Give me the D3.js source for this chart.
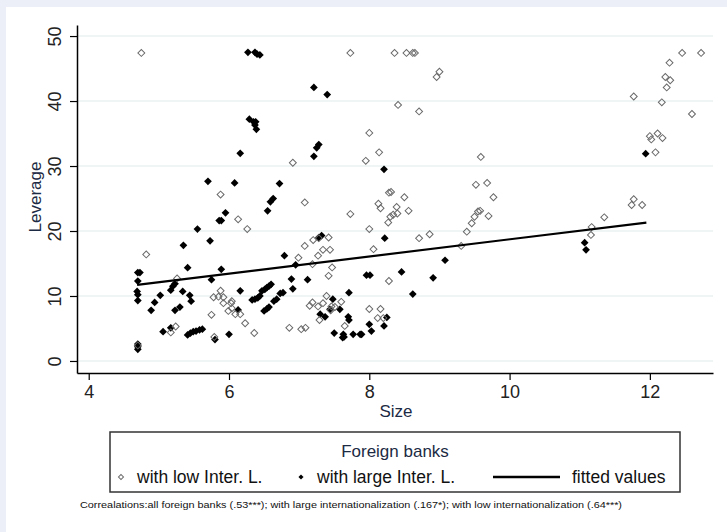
<!DOCTYPE html>
<html>
<head>
<meta charset="utf-8">
<script src="https://cdn.jsdelivr.net/npm/d3@7"></script>
<style>
  body { margin: 0; background: #fff; }
  svg { display: block; font-family: "Liberation Sans", Arial, sans-serif; }
</style>
</head>
<body>
<svg id="chart" width="727" height="532"></svg>
<script>
// banks with low internationalization (open diamonds): [size, leverage]
var lowInter = [
    [4.75,47.4],[7.73,47.4],[8.36,47.4],[8.53,47.4],[8.62,47.4],[8.65,47.4],[12.46,47.4],[12.73,47.4],
    [8.96,43.7],[9.0,44.5],[8.41,39.4],[8.71,38.4],[8.0,35.1],[8.14,32.1],[7.95,30.8],[9.59,31.4],
    [9.52,27.1],[9.68,27.4],[8.28,25.9],[8.5,25.2],[9.77,25.2],
    [11.77,40.7],[12.28,45.9],[12.22,43.7],[12.29,43.2],[12.24,42.1],[12.17,39.8],[12.6,38.0],
    [12.0,34.6],[12.02,34.1],[12.11,35.0],[12.18,34.3],[12.08,32.1],[11.77,24.9],[11.74,24.0],
    [11.89,24.0],[11.35,22.1],[11.17,20.6],[11.16,19.4],
    [6.91,30.5],[5.88,25.6],[7.08,24.4],[7.73,22.6],[6.13,21.8],[6.26,20.3],
    [8.13,24.2],[8.16,23.5],[8.39,23.7],[8.34,22.5],[8.30,22.2],[8.27,21.3],[8.40,22.7],[8.56,23.1],
    [8.0,20.3],[8.06,17.2],[8.71,18.9],[8.86,19.5],[8.28,12.3],[8.31,26.0],
    [9.31,17.7],[9.39,19.9],[9.46,21.2],[9.50,22.2],[9.55,23.0],[9.58,23.1],[9.70,22.3],
    [8.0,8.0],[8.16,8.0],[8.12,6.6],[8.20,6.6],
    [7.08,17.7],[7.20,18.6],[7.28,18.9],[7.42,19.0],[7.34,17.1],[7.44,17.1],[7.27,16.2],[6.99,15.9],
    [7.19,14.9],[7.47,14.4],[7.42,13.1],[7.19,9.0],[7.15,8.5],[7.27,8.4],[7.34,8.9],[7.39,10.0],
    [7.46,8.4],[7.45,7.8],[7.51,8.3],[7.60,9.1],[7.29,6.3],[7.65,5.4],[6.86,5.1],[7.03,4.9],[7.09,5.1],
    [4.82,16.4],[5.26,12.7],[5.88,10.8],[5.78,9.8],[5.85,9.9],[5.92,9.8],[6.04,9.2],[6.03,8.9],
    [5.92,8.9],[5.99,7.7],[6.04,8.1],[6.09,7.2],[6.16,7.2],[5.75,7.1],[6.23,5.8],[6.36,4.3],
    [5.17,4.4],[5.24,5.3],[5.79,3.7],[4.70,2.4]
]

// banks with large internationalization (filled diamonds)
var largeInter = [
    [4.70,13.6],[4.73,13.6],[4.70,12.3],[4.69,10.7],[4.70,10.2],[4.70,9.3],[4.70,2.6],[4.70,2.2],[4.70,1.8],
    [4.89,7.8],[4.94,9.0],[5.02,10.1],[5.06,4.5],[5.17,10.9],[5.20,11.5],[5.23,11.9],[5.17,5.1],
    [5.23,7.8],[5.30,8.3],[5.35,17.8],[5.34,10.7],[5.41,14.35],[5.44,10.1],[5.46,9.2],
    [5.41,4.0],[5.45,4.3],[5.49,4.5],[5.53,4.6],[5.58,4.8],[5.62,4.9],
    [5.55,20.3],[5.73,18.5],[5.75,12.5],[5.80,3.3],[5.86,21.6],[5.89,21.6],[5.95,22.8],[5.89,14.1],
    [6.00,4.1],[6.13,7.85],[6.16,10.8],
    [6.33,9.4],[6.37,9.5],[6.41,9.7],[6.44,10.0],[6.47,10.8],[6.51,11.0],[6.54,11.3],[6.57,11.5],[6.60,11.8],
    [6.50,7.7],[6.54,8.0],[6.57,8.3],[6.55,23.1],[6.59,24.5],[6.63,25.0],
    [6.64,9.2],[6.68,9.5],[6.73,10.4],[6.77,10.5],[6.79,16.2],[6.89,12.6],[6.91,11.1],[6.95,14.8],
    [7.12,12.5],[7.32,19.3],[7.28,19.0],[7.30,7.2],[7.37,6.8],[7.44,7.95],[7.48,9.5],[7.50,4.3],
    [7.63,4.1],[7.62,3.6],[7.64,3.7],[7.70,6.8],[7.71,6.3],[7.71,10.5],[7.58,7.95],[7.77,4.1],
    [7.87,4.1],[7.89,4.1],
    [7.96,13.2],[8.01,13.2],[8.46,13.7],[8.62,10.3],[8.91,12.8],[9.08,15.5],[8.22,18.9],
    [8.0,5.65],[8.03,4.6],[8.21,5.4],[8.25,6.7],
    [6.72,27.3],[7.21,31.5],[7.25,32.8],[7.28,33.3],[8.21,29.5],[7.21,42.1],[7.40,41.0],
    [6.27,47.5],[6.37,47.5],[6.40,47.2],[6.44,47.1],[6.29,37.2],[6.35,36.8],[6.38,36.8],[6.37,36.3],
    [6.39,35.65],[6.16,31.95],[5.70,27.65],[6.08,27.4],
    [11.94,31.9],[11.07,18.2],[11.09,17.1]
]

// fitted values, ends of the line
var fitX = [4.69, 11.95]
var fitY = [11.7, 21.3]

var xTicks = [4, 6, 8, 10, 12]
var yTicks = [0, 10, 20, 30, 40, 50]
var legendLabels = ['with low Inter. L.', 'with large Inter. L.', 'fitted values']
var note = 'Correalations:all foreign banks (.53***); with large internationalization (.167*); with low internationalization (.64***)'

var svg = d3.select('#chart'),
    navy = '#1c2a44'

// page frame: lavender strip on top and left
svg.append('rect').attr('x', 0).attr('y', 0).attr('width', 727).attr('height', 532).attr('fill', '#eceef8')
svg.append('rect').attr('x', 6).attr('y', 7).attr('width', 721).attr('height', 525).attr('fill', '#fff')

var x = d3.scaleLinear().domain([3.833, 12.9]).range([77, 713]),
    y = d3.scaleLinear().domain([-1.85, 51.7]).range([373, 25])

// grid
svg.append('g')
    .selectAll('line')
    .data(yTicks)
    .join('line')
    .attr('x1', 77).attr('x2', 713)
    .attr('y1', d => y(d)).attr('y2', d => y(d))
    .attr('stroke', '#eaf2f2')
    .attr('stroke-width', 1.5)

// axes
var xAxis = svg.append('g')
    .attr('transform', 'translate(0,373)')
    .call(d3.axisBottom(x).tickValues(xTicks).tickSizeInner(7).tickSizeOuter(0).tickPadding(5))
xAxis.selectAll('text').attr('font-size', 18).attr('fill', '#222').attr('font-family', 'Liberation Sans, Arial')

var yAxis = svg.append('g')
    .attr('transform', 'translate(77,0)')
    .call(d3.axisLeft(y).tickValues(yTicks).tickSizeInner(7).tickSizeOuter(0))
yAxis.selectAll('text')
    .attr('font-size', 18).attr('fill', '#222').attr('font-family', 'Liberation Sans, Arial')
    .attr('text-anchor', 'middle')
    .attr('dy', 0)
    .attr('x', 0)
    .attr('transform', 'translate(-16,0) rotate(-90)')

svg.selectAll('.domain').attr('stroke', '#000').attr('stroke-width', 1.5)
svg.selectAll('.tick line').attr('stroke', '#000').attr('stroke-width', 1.2)

svg.append('text')
    .attr('x', 396).attr('y', 417)
    .attr('text-anchor', 'middle')
    .attr('font-size', 17).attr('fill', navy)
    .text('Size')

svg.append('text')
    .attr('transform', 'translate(41,197) rotate(-90)')
    .attr('text-anchor', 'middle')
    .attr('font-size', 17).attr('fill', navy)
    .text('Leverage')

// markers: diamonds are rotated squares
var bigDiamond = d3.symbol().type(d3.symbolSquare).size(30)(),
    openDiamond = d3.symbol().type(d3.symbolSquare).size(24)(),
    smallDiamond = d3.symbol().type(d3.symbolSquare).size(13)()

svg.append('g')
    .selectAll('path')
    .data(largeInter)
    .join('path')
    .attr('d', bigDiamond)
    .attr('transform', d => 'translate(' + x(d[0]) + ',' + y(d[1]) + ') rotate(45)')
    .attr('fill', '#000')

svg.append('g')
    .selectAll('path')
    .data(lowInter)
    .join('path')
    .attr('d', openDiamond)
    .attr('transform', d => 'translate(' + x(d[0]) + ',' + y(d[1]) + ') rotate(45)')
    .attr('fill', 'none')
    .attr('stroke', '#6a6a6a')
    .attr('stroke-width', 1)

var line = d3.line().x(d => x(d[0])).y(d => y(d[1]))
svg.append('path')
    .datum(d3.zip(fitX, fitY))
    .attr('d', line)
    .attr('fill', 'none')
    .attr('stroke', '#000')
    .attr('stroke-width', 2.2)

// legend
var lg = svg.append('g')
lg.append('rect')
    .attr('x', 110).attr('y', 432).attr('width', 570).attr('height', 60)
    .attr('fill', '#fff').attr('stroke', '#333').attr('stroke-width', 1.5)
lg.append('text')
    .attr('x', 395).attr('y', 457)
    .attr('text-anchor', 'middle')
    .attr('font-size', 17).attr('fill', navy)
    .text('Foreign banks')

lg.append('path').attr('d', smallDiamond)
    .attr('transform', 'translate(121,477) rotate(45)')
    .attr('fill', '#fff').attr('stroke', '#707070')
lg.append('path').attr('d', smallDiamond)
    .attr('transform', 'translate(301,477) rotate(45)')
    .attr('fill', '#000')
lg.append('line')
    .attr('x1', 493).attr('x2', 560).attr('y1', 477).attr('y2', 477)
    .attr('stroke', '#000').attr('stroke-width', 2.5)

lg.selectAll('.item')
    .data(legendLabels)
    .join('text')
    .attr('class', 'item')
    .attr('x', (d, i) => [137, 317, 572][i])
    .attr('y', 483)
    .attr('font-size', 17.5).attr('fill', '#111')
    .text(d => d)

svg.append('text')
    .attr('x', 80).attr('y', 508)
    .attr('font-size', 9.5).attr('fill', '#111')
    .attr('textLength', 542).attr('lengthAdjust', 'spacingAndGlyphs')
    .text(note)
</script>
</body>
</html>
